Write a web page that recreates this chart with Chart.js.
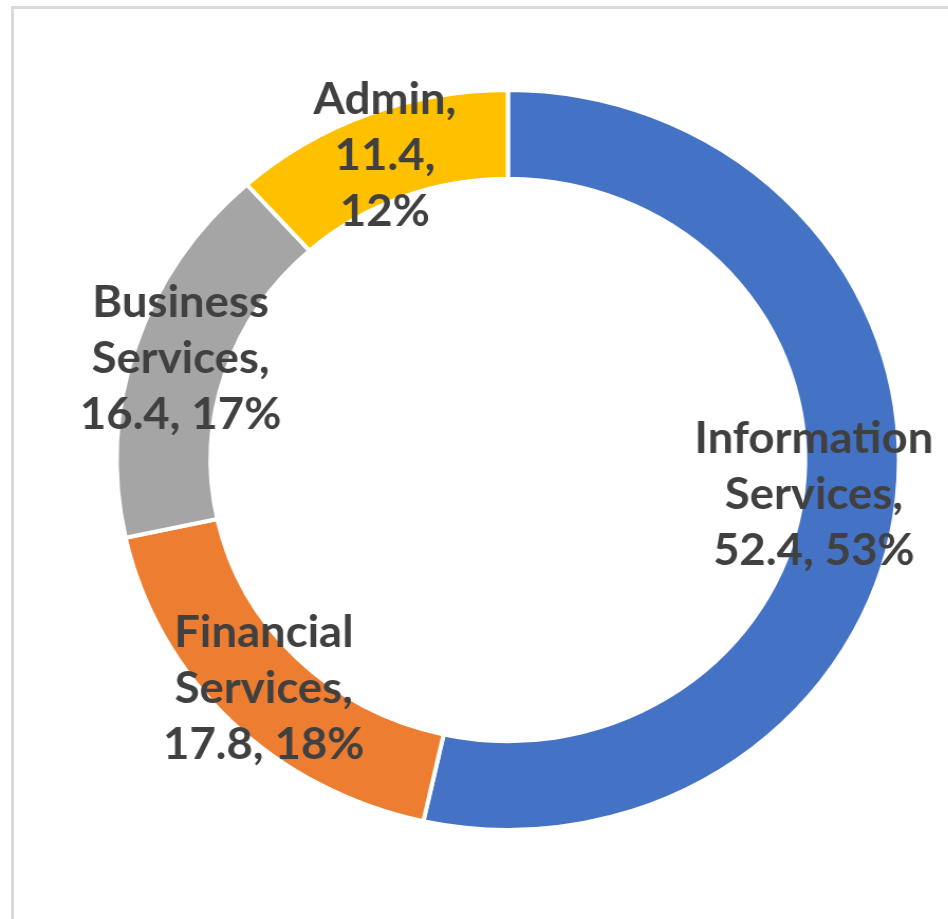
<!DOCTYPE html>
<html>
<head>
<meta charset="utf-8">
<script src="https://cdn.jsdelivr.net/npm/chart.js@4.4.1/dist/chart.umd.min.js"></script>
<style>
  html, body { margin: 0; padding: 0; background: #fff; overflow: hidden; }
  body { width: 948px; height: 919px; position: relative; }
  .frame {
    position: absolute; left: 11px; top: 6px; width: 1000px; height: 1000px;
    border: 3px solid #d9d9d9; box-sizing: border-box;
  }
  .stretch {
    position: absolute; left: 0; top: 0; width: 897px; height: 919px;
    transform: scaleX(1.057); transform-origin: 0 0;
  }
</style>
</head>
<body>
<div class="frame"></div>
<div class="stretch"><canvas id="myChart"></canvas></div>
<script>
const categories = ['Information Services', 'Financial Services', 'Business Services', 'Admin'];
const values = [52.4, 17.8, 16.4, 11.4];
const colors = ['#4472C4', '#ED7D31', '#A5A5A5', '#FFC000'];
// wrap width per label, Excel wraps each one differently
const wrapWidths = [250, 250, 250, 160];

const total = values.reduce((a, b) => a + b, 0);
const FONT = 'bold 43px Lato';

function wrap(ctx, text, maxW) {
    const words = text.split(' ');
    const lines = [];
    let cur = '';
    words.forEach((w) => {
        const test = cur ? cur + ' ' + w : w;
        if (cur && ctx.measureText(test).width > maxW) {
            lines.push(cur);
            cur = w;
        } else {
            cur = test;
        }
    });
    if (cur) lines.push(cur);
    return lines;
}

const ringLabels = {
    id: 'ringLabels',
    afterDatasetsDraw(chart) {
        const ctx = chart.ctx;
        const meta = chart.getDatasetMeta(0);
        ctx.save();
        ctx.font = FONT;
        ctx.fillStyle = '#404040';
        ctx.textAlign = 'center';
        ctx.textBaseline = 'middle';
        const lineH = 56;
        meta.data.forEach((arc, i) => {
            const pct = Math.round(values[i] / total * 100);
            const text = categories[i] + ', ' + values[i] + ', ' + pct + '%';
            const lines = wrap(ctx, text, wrapWidths[i]);
            const pos = arc.getCenterPoint();
            const w = Math.max(...lines.map((l) => ctx.measureText(l).width));
            let x = pos.x;
            const maxX = chart.width - 14;
            if (x + w / 2 > maxX) x = maxX - w / 2;
            const y0 = pos.y - (lines.length - 1) * lineH / 2;
            lines.forEach((l, k) => ctx.fillText(l, x, y0 + k * lineH));
        });
        ctx.restore();
    }
};

const ctx = document.getElementById('myChart').getContext('2d');
const myChart = new Chart(ctx, {
    type: 'doughnut',
    data: {
        labels: categories,
        datasets: [{
            data: values,
            backgroundColor: colors,
            borderColor: '#ffffff',
            borderWidth: 4,
            cutout: '76%'
        }]
    },
    options: {
        responsive: true,
        maintainAspectRatio: false,
        animation: false,
        layout: { padding: { left: 108, right: 44, top: 88, bottom: 87 } },
        plugins: {
            legend: { display: false },
            tooltip: { enabled: false }
        }
    },
    plugins: [ringLabels]
});
</script>
</body>
</html>
